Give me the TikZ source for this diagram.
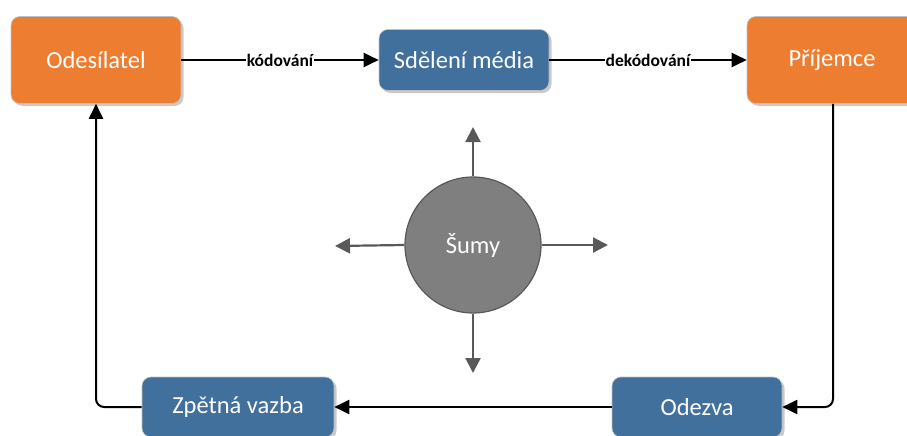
\documentclass[tikz,border=0pt]{standalone}
\usepackage{fontspec}
\setmainfont{Carlito}
\usetikzlibrary{arrows.meta,shadows}
\definecolor{orangebox}{HTML}{ED7D31}
\definecolor{bluebox}{HTML}{41709C}
\definecolor{noisegray}{HTML}{7F7F7F}
\definecolor{noisedark}{HTML}{595959}
\begin{document}
\begin{tikzpicture}[x=1pt,y=-1pt,
  box/.style={rounded corners=9pt, text=white, font=\fontsize{24.5}{28}\selectfont,
    draw=white!75!black, line width=0.6pt,
    drop shadow={shadow xshift=2.5pt, shadow yshift=-2.5pt, fill=black!35, opacity=0.6}},
  mainbox/.style={box, fill=orangebox, minimum width=170pt, minimum height=87pt},
  midbox/.style={box, fill=bluebox, minimum width=170pt, minimum height=61pt},
  lowbox/.style={box, fill=bluebox, minimum height=60pt},
  flow/.style={line width=2pt, -{Triangle[length=15pt,width=14pt]}},
  edgelabel/.style={fill=white, inner sep=1pt, font=\bfseries\fontsize{17.5}{20}\selectfont},
  noise/.style={line width=2.2pt, draw=noisedark, -{Triangle[length=15pt,width=15pt]}}]
  \useasboundingbox (0,0) rectangle (907,436);
  \begin{scope}
    \clip (0,0) rectangle (907,436);
    % top row
    \node[mainbox] (sender) at (96,60) {Odesílatel};
    \node[midbox] (media) at (464,60) {Sdělení média};
    \node[mainbox] (receiver) at (832,60) {Příjemce};
    % bottom row
    \node[lowbox, minimum width=192pt] (feedback) at (238,407) {Zpětná vazba};
    \node[lowbox, minimum width=170pt] (response) at (697,407) {Odezva};
    % noise
    \node[circle, fill=noisegray, draw=noisedark, line width=1.2pt, minimum size=136pt,
      text=white, font=\fontsize{24.5}{28}\selectfont] (noise) at (473,245) {Šumy};
    \coordinate (nup) at (473,127);
    \coordinate (ndown) at (473,373);
    \coordinate (nleft) at (335,246);
    \coordinate (nright) at (608,245);
    \draw[noise] (noise.north) -- (nup);
    \draw[noise] (noise.south) -- (ndown);
    \draw[noise] (noise.west) -- (nleft);
    \draw[noise] (noise.east) -- (nright);
    % main flow
    \draw[flow] (sender.east) -- node[edgelabel] {kódování} (media.west);
    \draw[flow] (media.east) -- node[edgelabel] {dekódování} (receiver.west);
    \coordinate (rcorner) at (833,407);
    \coordinate (lcorner) at (96,407);
    \draw[flow, rounded corners=8pt] (receiver.south -| rcorner) -- (rcorner) -- (response.east);
    \draw[flow] (response.west) -- (feedback.east);
    \draw[flow, rounded corners=8pt] (feedback.west) -- (lcorner) -- (sender.south);
  \end{scope}
\end{tikzpicture}
\end{document}
